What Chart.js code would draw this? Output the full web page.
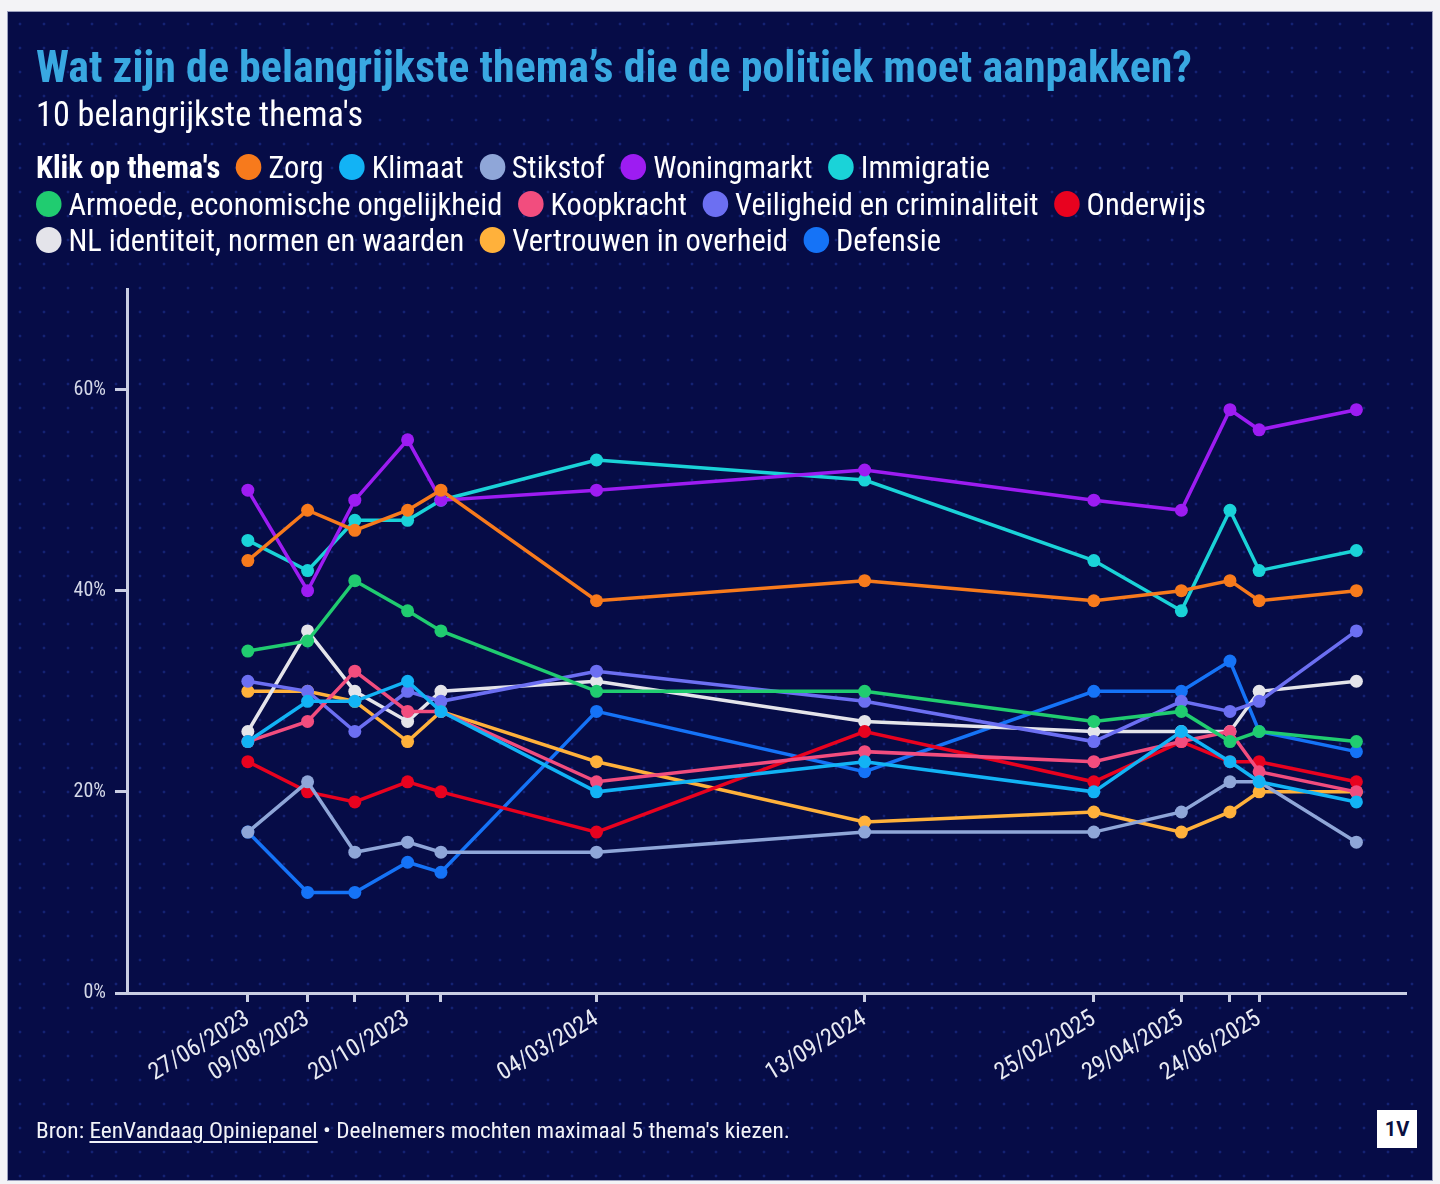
<!DOCTYPE html>
<html lang="nl">
<head>
<meta charset="utf-8">
<title>Belangrijkste thema's</title>
<script src="https://cdn.jsdelivr.net/npm/chart.js@4.4.1/dist/chart.umd.min.js"></script>
<style>
  html, body { margin: 0; padding: 0; width: 1440px; height: 1184px; overflow: hidden; background: #f3f3f6; }
  #panel {
    position: absolute; left: 8px; top: 12px; width: 1424px; height: 1168px;
    background-color: #060c47;
    background-image: radial-gradient(circle, rgba(45, 75, 200, 0.35) 1.2px, transparent 1.7px);
    background-size: 24px 24px;
    outline: 1px solid #9a9fbd;
  }
  canvas { position: absolute; left: 0; top: 0; }
  .txt, .row {
    position: absolute; left: 36px; white-space: nowrap; transform-origin: 0 50%;
    font-family: "Liberation Sans Narrow", "Roboto Condensed", Roboto, sans-serif;
    line-height: 1;
  }
  #title { top: 45px; font-size: 44px; font-weight: bold; color: #39a8e1; }
  #subtitle { top: 97px; font-size: 35px; color: #ffffff; }
  .row { height: 30px; display: flex; align-items: center; font-size: 31px; color: #ffffff; }
  .row b { margin-right: 16px; }
  .dot { width: 26px; height: 26px; border-radius: 50%; margin-right: 7px; flex: none; }
  .lab { margin-right: 16px; }
  #footer { top: 1120px; font-size: 22px; color: #f2f3f8; }
  #footer u { text-underline-offset: 3px; }
  #logo {
    position: absolute; left: 1377px; top: 1110px; width: 40px; height: 38px;
    background: #ffffff; color: #0a0f40; display: flex; align-items: center; justify-content: center;
    font: bold 20px "Liberation Sans Narrow", Roboto, sans-serif;
  }
</style>
</head>
<body>
<div id="panel"></div>
<canvas id="chart" width="1440" height="1184"></canvas>
<div class="txt" id="title">Wat zijn de belangrijkste thema’s die de politiek moet aanpakken?</div>
<div class="txt" id="subtitle">10 belangrijkste thema's</div>
<div id="legend"></div>
<div class="txt" id="footer">Bron: <u>EenVandaag Opiniepanel</u> • Deelnemers mochten maximaal 5 thema's kiezen.</div>
<div id="logo">1V</div>

<script>
// survey dates (day/month/year in the labels)
var dates = ['2023-06-27', '2023-08-09', '2023-09-12', '2023-10-20', '2023-11-13', '2024-03-04',
             '2024-09-13', '2025-02-25', '2025-04-29', '2025-06-03', '2025-06-24', '2025-09-02'];
var tickLabels = ['27/06/2023', '09/08/2023', '20/10/2023', '04/03/2024',
                  '13/09/2024', '25/02/2025', '29/04/2025', '24/06/2025'];
var axisStart = '2023-04-01';
var axisEnd = '2025-10-07';

var themes = ['Zorg', 'Klimaat', 'Stikstof', 'Woningmarkt', 'Immigratie',
              'Armoede, economische ongelijkheid', 'Koopkracht', 'Veiligheid en criminaliteit',
              'Onderwijs', 'NL identiteit, normen en waarden', 'Vertrouwen in overheid', 'Defensie'];
var colors = ['#f77a1c', '#12b3f5', '#8fa6d8', '#9d1cf2', '#1ad3d8', '#20cc70',
              '#f24d7e', '#6c6ff2', '#e8021f', '#e4e4ea', '#ffb13b', '#1573f7'];

// percentages per survey
var zorg        = [43, 48, 46, 48, 50, 39, 41, 39, 40, 41, 39, 40];
var klimaat     = [25, 29, 29, 31, 28, 20, 23, 20, 26, 23, 21, 19];
var stikstof    = [16, 21, 14, 15, 14, 14, 16, 16, 18, 21, 21, 15];
var woningmarkt = [50, 40, 49, 55, 49, 50, 52, 49, 48, 58, 56, 58];
var immigratie  = [45, 42, 47, 47, 49, 53, 51, 43, 38, 48, 42, 44];
var armoede     = [34, 35, 41, 38, 36, 30, 30, 27, 28, 25, 26, 25];
var koopkracht  = [25, 27, 32, 28, 28, 21, 24, 23, 25, 26, 22, 20];
var veiligheid  = [31, 30, 26, 30, 29, 32, 29, 25, 29, 28, 29, 36];
var onderwijs   = [23, 20, 19, 21, 20, 16, 26, 21, 25, 23, 23, 21];
var identiteit  = [26, 36, 30, 27, 30, 31, 27, 26, 26, 26, 30, 31];
var vertrouwen  = [30, 30, 29, 25, 28, 23, 17, 18, 16, 18, 20, 20];
var defensie    = [16, 10, 10, 13, 12, 28, 22, 30, 30, 33, 26, 24];

var yTicks = [0, 20, 40, 60];
var yMax = 70;

var series = [zorg, klimaat, stikstof, woningmarkt, immigratie, armoede,
              koopkracht, veiligheid, onderwijs, identiteit, vertrouwen, defensie];
var legendRows = [5, 4, 3];
var rowEnds = [990, 1206, 941];

var FONT = '"Liberation Sans Narrow", "Roboto Condensed", Roboto, sans-serif';
var AXIS = '#c9cee3';

function dayOf(s) {
  var p = s.split('-');
  return (Date.UTC(+p[0], p[1] - 1, +p[2]) - Date.UTC(2023, 5, 27)) / 86400000;
}
function fmt(s) {
  var p = s.split('-');
  return p[2] + '/' + p[1] + '/' + p[0];
}

var xs = dates.map(dayOf);
var tickDays = xs.slice(0, -1);
var labelAt = {};
dates.forEach(function(d, i) {
  if (tickLabels.indexOf(fmt(d)) >= 0) labelAt[xs[i]] = fmt(d);
});

var datasets = series.map(function(vals, i) {
  return {
    label: themes[i],
    data: vals.map(function(v, j) { return { x: xs[j], y: v }; }),
    borderColor: colors[i],
    backgroundColor: colors[i],
    pointBackgroundColor: colors[i],
    pointBorderWidth: 0,
    pointRadius: 6.5,
    borderWidth: 3.5,
    tension: 0
  };
});

var chart = new Chart(document.getElementById('chart'), {
  type: 'line',
  data: { datasets: datasets },
  options: {
    responsive: false,
    animation: false,
    devicePixelRatio: 1,
    layout: { padding: { left: 47, top: 289, right: 35, bottom: 71 } },
    plugins: { legend: { display: false }, tooltip: { enabled: false } },
    scales: {
      x: {
        type: 'linear',
        min: dayOf(axisStart),
        max: dayOf(axisEnd),
        afterBuildTicks: function(scale) {
          scale.ticks = tickDays.map(function(v) { return { value: v }; });
        },
        afterFit: function(scale) { scale.height = 120; },
        grid: { drawOnChartArea: false, drawTicks: true, tickLength: 9, color: AXIS, lineWidth: 3 },
        border: { display: true, color: AXIS, width: 3 },
        ticks: {
          autoSkip: false,
          minRotation: 31,
          maxRotation: 31,
          padding: 3,
          color: '#e8eaf2',
          font: { family: FONT, size: 24 },
          callback: function(v) { return labelAt[v] || ''; }
        }
      },
      y: {
        min: 0,
        max: yMax,
        afterBuildTicks: function(scale) {
          scale.ticks = yTicks.map(function(v) { return { value: v }; });
        },
        afterFit: function(scale) { scale.width = 80; },
        grid: { drawOnChartArea: false, drawTicks: true, tickLength: 12, color: AXIS, lineWidth: 3 },
        border: { display: true, color: AXIS, width: 3 },
        ticks: {
          padding: 9,
          color: '#d4d8e8',
          font: { family: FONT, size: 20 },
          callback: function(v) { return v + '%'; }
        }
      }
    }
  }
});

// html legend, built from the chart's datasets
var legend = document.getElementById('legend');
var rowTops = [152, 189, 225];
var k = 0;
legendRows.forEach(function(n, r) {
  var row = document.createElement('div');
  row.className = 'row';
  row.style.top = rowTops[r] + 'px';
  if (r === 0) {
    var b = document.createElement('b');
    b.textContent = "Klik op thema's";
    row.appendChild(b);
  }
  for (var j = 0; j < n; j++, k++) {
    var ds = chart.data.datasets[k];
    var dot = document.createElement('span');
    dot.className = 'dot';
    dot.style.background = ds.borderColor;
    var lab = document.createElement('span');
    lab.className = 'lab';
    lab.textContent = ds.label;
    if (j === n - 1) lab.style.marginRight = '0';
    row.appendChild(dot);
    row.appendChild(lab);
  }
  legend.appendChild(row);
});

function fitWidth(el, w) {
  var cur = el.getBoundingClientRect().width;
  if (cur > 0) el.style.transform = 'scaleX(' + (w / cur) + ')';
}
fitWidth(document.getElementById('title'), 1156);
fitWidth(document.getElementById('subtitle'), 327);
fitWidth(document.getElementById('footer'), 754);
Array.prototype.forEach.call(document.querySelectorAll('.row'), function(row, i) {
  row.style.width = 'max-content';
  fitWidth(row, rowEnds[i] - 36);
});
</script>
</body>
</html>
